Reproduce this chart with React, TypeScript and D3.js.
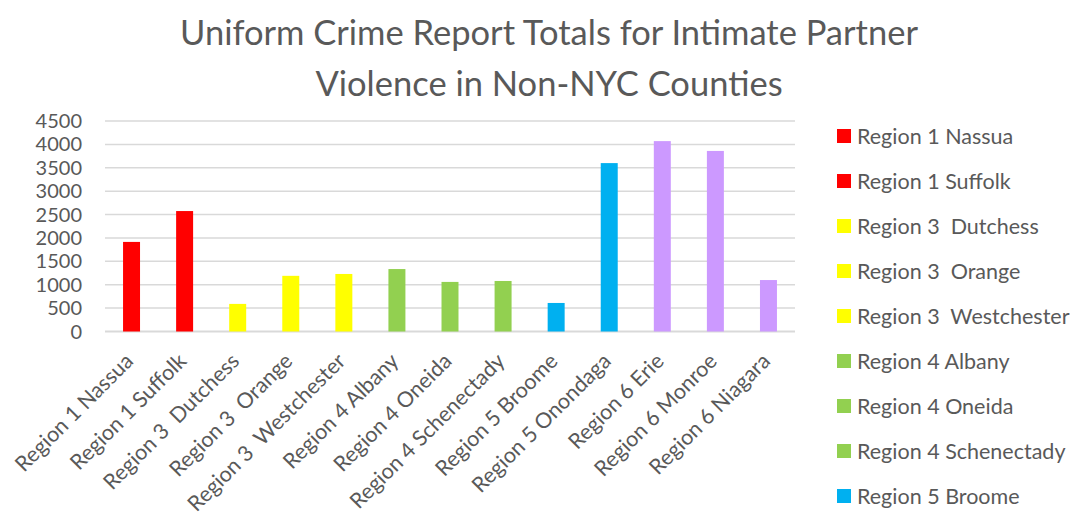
import * as d3 from "d3";
import { useEffect, useRef } from "react";

const counties = [
  "Region 1 Nassua",
  "Region 1 Suffolk",
  "Region 3  Dutchess",
  "Region 3  Orange",
  "Region 3  Westchester",
  "Region 4 Albany",
  "Region 4 Oneida",
  "Region 4 Schenectady",
  "Region 5 Broome",
  "Region 5 Onondaga",
  "Region 6 Erie",
  "Region 6 Monroe",
  "Region 6 Niagara",
];
const totals = [1915, 2575, 590, 1190, 1230, 1335, 1060, 1080, 610, 3600, 4070, 3860, 1100];
const yTicks = [0, 500, 1000, 1500, 2000, 2500, 3000, 3500, 4000, 4500];

const regionColor: Record<string, string> = {
  "1": "#FF0000",
  "3": "#FFFF00",
  "4": "#92D050",
  "5": "#00B0F0",
  "6": "#CC99FF",
};
const colorOf = (name: string) => regionColor[name.match(/Region (\d)/)![1]];

const W = 1086;
const H = 519;
const FONT = "Lato, 'Open Sans', sans-serif";
const GREY = "#595959";

export default function App() {
  const ref = useRef<SVGSVGElement>(null);

  useEffect(() => {
    const svg = d3.select(ref.current);
    svg.selectAll("*").remove();

    const plot = { left: 105, right: 795, top: 121, bottom: 331.5 };

    const x = d3.scaleBand().domain(counties).range([plot.left, plot.right]).paddingInner(0.68).paddingOuter(0.34);
    const y = d3.scaleLinear().domain([0, 4500]).range([plot.bottom, plot.top]);

    // title
    const title = svg.append("text")
      .attr("text-anchor", "middle")
      .attr("font-family", FONT)
      .attr("font-size", 34.5)
      .attr("fill", GREY);
    title.append("tspan").attr("x", 549).attr("y", 45).text("Uniform Crime Report Totals for Intimate Partner");
    title.append("tspan").attr("x", 549).attr("y", 96).text("Violence in Non-NYC Counties");

    // gridlines
    svg.append("g")
      .selectAll("line")
      .data(yTicks)
      .join("line")
      .attr("x1", plot.left)
      .attr("x2", plot.right)
      .attr("y1", (d) => y(d))
      .attr("y2", (d) => y(d))
      .attr("stroke", "#D9D9D9")
      .attr("stroke-width", (d) => (d === 0 ? 2 : 1.5));

    // y labels
    svg.append("g")
      .selectAll("text")
      .data(yTicks)
      .join("text")
      .attr("x", 82)
      .attr("y", (d) => y(d))
      .attr("dy", "0.35em")
      .attr("text-anchor", "end")
      .attr("font-family", FONT)
      .attr("font-size", 20)
      .attr("fill", GREY)
      .text((d) => d);

    // bars
    svg.append("g")
      .selectAll("rect")
      .data(counties)
      .join("rect")
      .attr("x", (d) => x(d)!)
      .attr("width", x.bandwidth())
      .attr("y", (_, i) => y(totals[i]))
      .attr("height", (_, i) => plot.bottom - y(totals[i]))
      .attr("fill", (d) => colorOf(d));

    // x labels
    svg.append("g")
      .selectAll("text")
      .data(counties)
      .join("text")
      .attr("transform", (d) => `translate(${x(d)! + x.bandwidth() / 2 + 3},${plot.bottom + 31}) rotate(-45)`)
      .attr("text-anchor", "end")
      .attr("font-family", FONT)
      .attr("font-size", 21.5)
      .attr("fill", GREY)
      .style("white-space", "pre")
      .text((d) => d);

    // legend (runs off the bottom like the original, only the rows that fit)
    const rowY = (i: number) => 136 + i * 45;
    const legend = svg.append("g")
      .selectAll("g")
      .data(counties.filter((_, i) => rowY(i) + 10 < H))
      .join("g")
      .attr("transform", (_, i) => `translate(837,${rowY(i)})`);
    legend.append("rect")
      .attr("x", 0)
      .attr("y", -7)
      .attr("width", 14)
      .attr("height", 14)
      .attr("fill", (d) => colorOf(d));
    legend.append("text")
      .attr("x", 20)
      .attr("dy", "0.35em")
      .attr("font-family", FONT)
      .attr("font-size", 21.5)
      .attr("fill", GREY)
      .style("white-space", "pre")
      .text((d) => d);
  }, []);

  return (
    <svg
      ref={ref}
      width={W}
      height={H}
      style={{ position: "absolute", left: 0, top: 0, background: "#fff" }}
    />
  );
}
